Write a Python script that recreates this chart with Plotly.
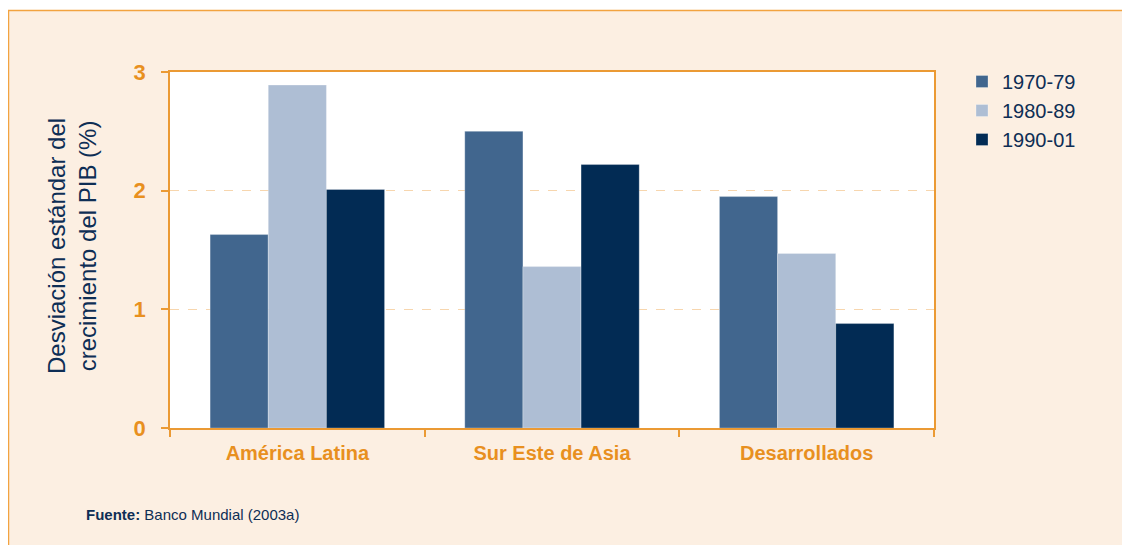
import plotly.graph_objects as go

categories = ["América Latina", "Sur Este de Asia", "Desarrollados"]
series_names = ["1970-79", "1980-89", "1990-01"]
v_1970_79 = [1.63, 2.50, 1.95]
v_1980_89 = [2.89, 1.36, 1.47]
v_1990_01 = [2.01, 2.22, 0.88]
colors = ["#41668E", "#AEBED4", "#022B54"]
y_ticks = [0, 1, 2, 3]

# page has an 8px body margin; figure drawn inside it
OFF = 8
W, H = 1130 - OFF, 545 - OFF
L, T = 170 - OFF, 72 - OFF
R = W - (934 - OFF)
B = H - (428 - OFF)
pw, ph = W - L - R, H - T - B

def px_x(p):  # page pixel -> paper x
    return (p - OFF - L) / pw

def px_y(p):  # page pixel -> paper y
    return (H - B - (p - OFF)) / ph

ORANGE = "#EB9A34"
LABEL_OR = "#E8901F"
NAVY = "#0E2E55"
PANEL = "#FCEFE2"
SANS = "Arial, Liberation Sans, sans-serif"

fig = go.Figure()
for name, vals, c in zip(series_names, [v_1970_79, v_1980_89, v_1990_01], colors):
    fig.add_trace(go.Bar(
        x=categories, y=vals, name=name,
        marker=dict(color=c, line=dict(color="rgba(255,255,255,0.35)", width=0.8)),
    ))

fig.update_layout(
    width=W, height=H,
    margin=dict(l=L, r=R, t=T, b=B),
    paper_bgcolor="white",
    plot_bgcolor="white",
    barmode="group",
    bargap=0.315,
    bargroupgap=0,
    showlegend=True,
    legend=dict(
        x=px_x(962), y=px_y(62), xanchor="left", yanchor="top",
        font=dict(family=SANS, size=20, color=NAVY),
        bgcolor="rgba(0,0,0,0)", tracegroupgap=0, itemwidth=30,
    ),
    shapes=[
        dict(type="rect", xref="paper", yref="paper", layer="below",
             x0=px_x(8.5), x1=px_x(1160), y0=px_y(10.5), y1=px_y(580),
             fillcolor=PANEL, line=dict(color="#F2A340", width=1.5)),
        dict(type="rect", xref="paper", yref="paper", layer="below",
             x0=0, x1=1, y0=0, y1=1, fillcolor="white", line=dict(width=0)),
    ],
    annotations=[
        dict(text="Desviación estándar del<br>crecimiento del PIB (%)",
             xref="paper", yref="paper", x=px_x(72), y=px_y(246),
             xanchor="center", yanchor="middle", textangle=-90, showarrow=False,
             font=dict(family=SANS, size=24, color=NAVY)),
        dict(text="<b>Fuente:</b> Banco Mundial (2003a)",
             xref="paper", yref="paper", x=px_x(84), y=px_y(515),
             xanchor="left", yanchor="middle", showarrow=False,
             font=dict(family=SANS, size=15, color=NAVY)),
    ],
)

fig.update_xaxes(
    showline=True, linecolor=ORANGE, linewidth=1.5, mirror=True,
    ticks="outside", tickson="boundaries", ticklen=7, tickcolor=ORANGE, tickwidth=1.5,
    tickfont=dict(family=SANS, size=20, color=LABEL_OR, weight="bold"),
    ticklabelstandoff=6,
    showgrid=False,
)
fig.update_yaxes(
    range=[0, 3], tickvals=y_ticks, ticktext=[str(t) for t in y_ticks],
    showline=True, linecolor=ORANGE, linewidth=1.5, mirror=True,
    ticks="outside", ticklen=7, tickcolor=ORANGE, tickwidth=1.5,
    tickfont=dict(family=SANS, size=22, color=LABEL_OR, weight="bold"),
    ticklabelstandoff=11,
    showgrid=True, gridcolor="#F7D6AE", griddash="dash", gridwidth=1,
    zeroline=False,
)

fig.write_html("out.html")
